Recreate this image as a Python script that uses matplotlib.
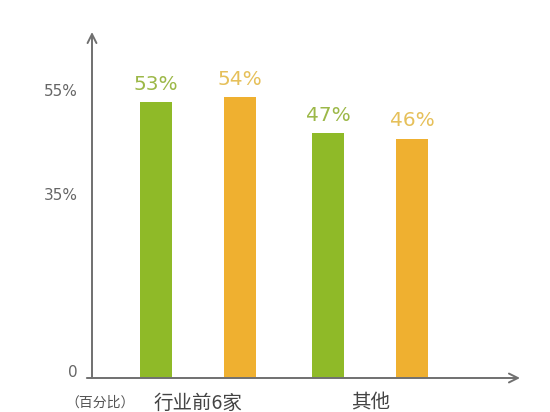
import matplotlib
matplotlib.use("Agg")
import matplotlib.pyplot as plt
import numpy as np

plt.rcParams['font.family'] = ['Noto Sans CJK SC', 'DejaVu Sans']

categories = ["行业前6家", "其他"]
series_a = [53, 47]   # green
series_b = [54, 46]   # orange
value_labels_a = ["53%", "47%"]
value_labels_b = ["54%", "46%"]
yticks = [0, 35, 55]
ytick_labels = ["0", "35%", "55%"]
unit_label = "（百分比）"

green = "#8fba28"
orange = "#efb030"
green_txt = "#9cb848"
orange_txt = "#e6c05a"
axis_col = "#707070"
tick_col = "#666666"

W, H = 550, 412
fig = plt.figure(figsize=(W / 100, H / 100), dpi=100)
ax = fig.add_axes([92 / W, 34 / H, (520 - 92) / W, (380 - 34) / H])

x = np.arange(len(categories))
off = 0.2435
bw = 0.1855
ax.bar(x - off, series_a, width=bw, color=green, zorder=2)
ax.bar(x + off, series_b, width=bw, color=orange, zorder=2)

for xi, v, t in zip(x, series_a, value_labels_a):
    ax.text(xi - off, v + 1.6, t, ha="center", va="bottom", fontsize=14.5,
            color=green_txt, family=['DejaVu Sans'])
for xi, v, t in zip(x, series_b, value_labels_b):
    ax.text(xi + off, v + 1.6, t, ha="center", va="bottom", fontsize=14.5,
            color=orange_txt, family=['DejaVu Sans'])

ax.set_xlim(-0.6145, 1.867)
ax.set_ylim(0, 66.5)

for s in ax.spines.values():
    s.set_visible(False)
ax.set_xticks([])
ax.set_yticks([])

# y tick labels
for v, t in zip(yticks, ytick_labels):
    yy = v if v > 0 else 1.0
    ax.text(-0.698, yy, t, ha="right", va="center", fontsize=11,
            color=tick_col, transform=ax.transData, family=['DejaVu Sans'])

# category labels
for xi, c in zip(x, categories):
    ax.text(xi, -4.8, c, ha="center", va="center", fontsize=14,
            color="#444444", clip_on=False)
ax.text(-0.57, -4.8, unit_label, ha="center", va="center", fontsize=10,
        color="#555555", clip_on=False)

# axes with arrows
ax.annotate("", xy=(0, 1.0), xytext=(0, 0), xycoords="axes fraction",
            arrowprops=dict(arrowstyle="->", color=axis_col, lw=1.4,
                            mutation_scale=16, shrinkA=0, shrinkB=0))
ax.annotate("", xy=(1.0, 0), xytext=(-0.012, 0), xycoords="axes fraction",
            arrowprops=dict(arrowstyle="->", color=axis_col, lw=1.4,
                            mutation_scale=16, shrinkA=0, shrinkB=0))

fig.savefig("out.png", dpi=100, facecolor="white")
